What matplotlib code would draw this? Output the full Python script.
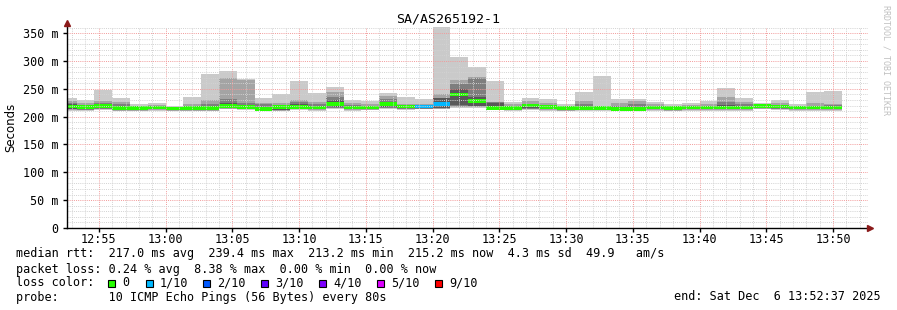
#!/usr/bin/env python
import matplotlib
matplotlib.use("Agg")
import matplotlib.pyplot as plt
from matplotlib.patches import Rectangle
from matplotlib.ticker import FixedLocator, MultipleLocator, FuncFormatter
import numpy as np

# time axis in minutes after 12:00, one sample every 80 s
t_start = 52 + 37 / 60.0   # 12:52:37
t_end = 112 + 37 / 60.0    # 13:52:37
first_step_end = 53 + 20 / 60.0  # 12:53:20
step = 80 / 60.0

# sorted ping values per step (ms)
p_max = [234, 230, 248, 234, 222, 224, 220, 236, 277, 282, 267, 234, 241, 264, 243,
         253, 230, 228, 242, 235, 232, 361, 308, 290, 264, 226, 233, 232, 223, 245,
         273, 232, 232, 226, 222, 224, 228, 251, 233, 224, 230, 222, 244, 246]
p_9 = [228, 224, 228, 227, 220, 221, 218, 222, 229, 270, 266, 224, 224, 230, 227,
       245, 225, 223, 237, 222, 222, 240, 265, 271, 226, 222, 228, 225, 220, 228,
       218, 225, 228, 222, 219, 221, 223, 235, 226, 221, 224, 220, 224, 223]
p_8 = [225, 221, 224, 222, 218, 219, 217, 219, 222, 231, 224, 222, 220, 226, 222,
       236, 221, 220, 231, 219, 220, 232, 258, 269, 226, 219, 222, 220, 218, 222,
       217, 220, 222, 219, 217, 219, 220, 227, 222, 220, 221, 219, 220, 221]
p_7 = [222, 219, 221, 219, 217, 218, 216, 217, 219, 224, 220, 218, 219, 222, 219,
       230, 219, 218, 227, 220, 219, 233, 249, 236, 225, 217, 221, 219, 216, 218,
       216, 216, 216, 218, 216, 218, 218, 221, 219, 220, 219, 220, 218, 218]
median = [218.5, 217.5, 219, 215, 216, 216.3, 214.5, 215, 215, 219.6, 217.8, 214.2, 217.2, 217.2, 216.7,
          222.6, 216.7, 216.7, 223, 218.5, 218.5, 223.2, 239.5, 228.5, 216, 215.4, 220.3, 217.8, 215.4, 216,
          216, 214.2, 214.2, 216.7, 215.4, 216.7, 216.7, 216.7, 216.7, 218.7, 218, 216.7, 216.7, 216.7]
p_4 = [214, 213, 215, 213, 213, 214, 213, 213, 213, 215, 215, 213, 212, 214, 214,
       217, 214, 214, 217, 215, 215, 216, 221, 220, 214, 213, 215, 213, 213, 213,
       213, 212, 212, 214, 213, 214, 214, 214, 214, 216, 215, 214, 214, 214]
p_3 = [213, 212, 214, 212, 212, 213, 212, 212, 212, 215, 214, 212, 212, 214, 213,
       216, 213, 213, 216, 214, 214, 215, 220, 219, 213, 212, 214, 213, 212, 213,
       212, 211, 211, 213, 212, 213, 213, 213, 213, 215, 214, 213, 213, 213]
p_2 = [212, 212, 213, 211, 211, 212, 211, 211, 211, 214, 213, 211, 211, 213, 212,
       215, 212, 212, 215, 213, 213, 214, 218, 218, 212, 212, 213, 212, 211, 212,
       212, 211, 211, 212, 211, 212, 212, 212, 212, 214, 213, 212, 212, 212]
p_min = [211, 211, 212, 210, 210, 211, 211, 211, 210, 213, 212, 211, 210, 212, 211,
         214, 211, 212, 214, 212, 213, 213, 216, 216, 212, 211, 212, 211, 210, 211,
         211, 210, 210, 211, 210, 211, 211, 211, 211, 213, 212, 211, 211, 211]
loss = [0] * 20 + [1, 1] + [0] * 22

loss_colors = {0: "#26ff00", 1: "#00b8ff", 2: "#0059ff", 3: "#5e00ff",
               4: "#7e00ff", 5: "#dd00ff", 9: "#ff0000"}
loss_labels = ["0", "1/10", "2/10", "3/10", "4/10", "5/10", "9/10"]

stats_rtt = "median rtt:  217.0 ms avg  239.4 ms max  213.2 ms min  215.2 ms now  4.3 ms sd  49.9   am/s"
stats_loss = "packet loss: 0.24 % avg  8.38 % max  0.00 % min  0.00 % now"
probe_txt = "probe:       10 ICMP Echo Pings (56 Bytes) every 80s"
end_txt = "end: Sat Dec  6 13:52:37 2025"
title = "SA/AS265192-1"

MONO = "DejaVu Sans Mono"
W, H = 897, 310


def fx(px):
    return px / W


def fy(py):
    return 1 - py / H


def main():
    plt.rcParams.update({"font.family": MONO, "font.size": 8.5})
    fig = plt.figure(figsize=(W / 100, H / 100), dpi=100)
    fig.patch.set_facecolor("white")
    ax = fig.add_axes([fx(67), fy(228), fx(868) - fx(67), fy(27) - fy(228)])

    n = len(median)
    ends = first_step_end + step * np.arange(n)
    lefts = np.concatenate([[t_start], ends[:-1]])
    widths = ends - lefts

    # smoke: nested ping pairs, darker towards the middle
    bands = [
        (p_min, p_max, "#cacaca"),
        (p_2, p_9, "#a4a4a4"),
        (p_3, p_8, "#7e7e7e"),
        (p_4, p_7, "#585858"),
    ]
    for lo, hi, c in bands:
        lo = np.array(lo, float)
        hi = np.array(hi, float)
        ax.bar(lefts, hi - lo, bottom=lo, width=widths, align="edge",
               color=c, linewidth=0, zorder=1)

    med = np.array(median, float)
    half = 3.3
    ax.bar(lefts, 2 * half, bottom=med - half, width=widths, align="edge",
           color=[loss_colors[l] for l in loss], linewidth=0, zorder=2)

    ax.set_xlim(t_start, t_end)
    ax.set_ylim(0, 361)

    ax.xaxis.set_major_locator(MultipleLocator(5))
    ax.xaxis.set_minor_locator(MultipleLocator(1))
    ax.xaxis.set_major_formatter(FuncFormatter(
        lambda v, p: "%02d:%02d" % (12 + int(round(v)) // 60, int(round(v)) % 60)))
    ax.yaxis.set_major_locator(FixedLocator(np.arange(0, 351, 50)))
    ax.yaxis.set_minor_locator(MultipleLocator(10))
    ax.yaxis.set_major_formatter(FuncFormatter(
        lambda v, p: "0" if v == 0 else "%d m" % v))

    ax.grid(which="minor", color="#d2d2d2", linestyle=(0, (1, 1.2)), linewidth=0.7, zorder=3)
    ax.grid(which="major", color="#f29a9a", linestyle=(0, (1, 1.2)), linewidth=0.7, zorder=3)
    ax.set_axisbelow(False)

    for s in ["top", "right"]:
        ax.spines[s].set_visible(False)
    for s in ["left", "bottom"]:
        ax.spines[s].set_color("#000000")
        ax.spines[s].set_linewidth(1.0)
        ax.spines[s].set_zorder(4)
    ax.tick_params(which="major", length=3, width=1, color="black", labelsize=8.5)
    ax.tick_params(which="minor", length=0)
    ax.tick_params(axis="x", pad=0.5)
    ax.tick_params(axis="y", pad=3)

    # axis arrows
    ax.plot([1.003], [0], marker=">", markersize=4, color="#8b1a1a",
            transform=ax.transAxes, clip_on=False, zorder=5)
    ax.plot([0], [1.02], marker="^", markersize=4, color="#8b1a1a",
            transform=ax.transAxes, clip_on=False, zorder=5)

    fig.text(fx(448), fy(19), title, ha="center", va="center", fontsize=9.5)
    fig.text(fx(11), fy(127), "Seconds", rotation=90, ha="center", va="center",
             fontsize=8.5, family="DejaVu Sans")
    fig.text(fx(886), fy(5), "RRDTOOL / TOBI OETIKER", rotation=270, ha="center",
             va="top", fontsize=6, color="#c0c0c0")

    fig.text(fx(16), fy(254), stats_rtt, ha="left", va="center", fontsize=8.5)
    fig.text(fx(16), fy(269), stats_loss, ha="left", va="center", fontsize=8.5)
    fig.text(fx(16), fy(283), "loss color:", ha="left", va="center", fontsize=8.5)
    sq_x = [108, 146, 203, 261, 319, 377, 435]
    for x0, key, lab in zip(sq_x, [0, 1, 2, 3, 4, 5, 9], loss_labels):
        fig.add_artist(Rectangle((fx(x0), fy(287)), 7 / W, 7 / H,
                                 transform=fig.transFigure, facecolor=loss_colors[key],
                                 edgecolor="black", linewidth=0.8))
        fig.text(fx(x0 + 14), fy(283), lab, ha="left", va="center", fontsize=8.5)
    fig.text(fx(16), fy(297), probe_txt, ha="left", va="center", fontsize=8.5)
    fig.text(fx(881), fy(297), end_txt, ha="right", va="center", fontsize=8.5)

    fig.savefig("out.png", dpi=100, facecolor="white")


if __name__ == "__main__":
    main()
